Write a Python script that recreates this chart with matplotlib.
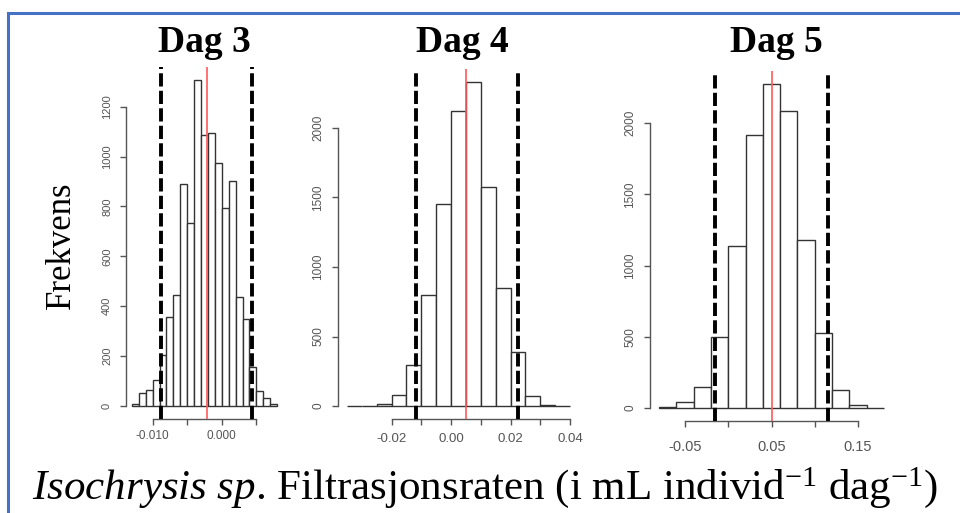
import matplotlib
matplotlib.use("Agg")
import matplotlib.pyplot as plt
import numpy as np
from matplotlib.lines import Line2D

plt.rcParams['font.family'] = ['Liberation Sans', 'DejaVu Sans']
plt.rcParams['mathtext.fontset'] = 'custom'
plt.rcParams['mathtext.rm'] = 'Liberation Serif'
plt.rcParams['mathtext.it'] = 'Liberation Serif:italic'

# Dag 3
dag3_breaks = np.round(np.arange(-0.013, 0.0081, 0.001), 4)
dag3_counts = [7, 53, 63, 103, 203, 357, 444, 890, 732, 1307, 1086, 1096,
               973, 792, 902, 435, 347, 157, 60, 32, 9]
dag3_ci = [-0.0088, 0.0044]
dag3_mean = -0.0022
dag3_xticks = [-0.010, -0.005, 0.000, 0.005]
dag3_xlabels = ['-0.010', '', '0.000', '']
dag3_yticks = [0, 200, 400, 600, 800, 1000, 1200]

# Dag 4
dag4_breaks = np.round(np.arange(-0.035, 0.0401, 0.005), 4)
dag4_counts = [2, 2, 17, 77, 293, 796, 1456, 2122, 2331, 1576, 851, 386, 72, 10, 2]
dag4_ci = [-0.0118, 0.0224]
dag4_mean = 0.0051
dag4_xticks = [-0.02, -0.01, 0.00, 0.01, 0.02, 0.03, 0.04]
dag4_xlabels = ['-0.02', '', '0.00', '', '0.02', '', '0.04']
dag4_yticks = [0, 500, 1000, 1500, 2000]

# Dag 5
dag5_breaks = np.round(np.arange(-0.08, 0.1801, 0.02), 4)
dag5_counts = [5, 42, 145, 498, 1139, 1920, 2276, 2087, 1181, 526, 129, 19, 3]
dag5_ci = [-0.0154, 0.1158]
dag5_mean = 0.0502
dag5_xticks = [-0.05, 0.00, 0.05, 0.10, 0.15]
dag5_xlabels = ['-0.05', '', '0.05', '', '0.15']
dag5_yticks = [0, 500, 1000, 1500, 2000]

titles = ['Dag 3', 'Dag 4', 'Dag 5']

fig = plt.figure(figsize=(9.6, 5.13), dpi=100)

# axes boxes (pixels: left, top, right, bottom)
boxes = [(126, 67, 283, 419), (338, 69, 579, 419), (650, 71, 893, 421)]
W, H = 960.0, 513.0


def r_hist(ax, breaks, counts, ci, mean, xticks, xlabels, yticks, xfs, yfs, xpad):
    breaks = np.asarray(breaks)
    ax.bar(breaks[:-1], counts, width=np.diff(breaks), align='edge',
           facecolor='white', edgecolor='#333333', linewidth=1.0, zorder=2)
    for v in ci:
        ax.axvline(v, color='black', lw=2.8, ls=(0, (3.4, 1.1)), zorder=3)
    ax.axvline(mean, color='#ff5a5a', lw=1.2, zorder=4)
    # R style 4% extension
    xr = breaks[-1] - breaks[0]
    ax.set_xlim(breaks[0] - 0.04 * xr, breaks[-1] + 0.04 * xr)
    ym = max(counts)
    ax.set_ylim(-0.04 * ym, ym * 1.04)
    for s in ['top', 'right']:
        ax.spines[s].set_visible(False)
    ax.spines['left'].set_bounds(yticks[0], yticks[-1])
    ax.spines['bottom'].set_bounds(xticks[0], xticks[-1])
    for s in ['left', 'bottom']:
        ax.spines[s].set_color('#555555')
        ax.spines[s].set_linewidth(1.0)
    ax.set_xticks(xticks)
    ax.set_xticklabels(xlabels, fontsize=xfs, color='#555555')
    ax.set_yticks(yticks)
    ax.set_yticklabels([str(t) for t in yticks], fontsize=yfs, color='#555555',
                       rotation=90, va='center')
    ax.tick_params(axis='both', length=4, width=1.0, color='#555555')
    ax.tick_params(axis='y', pad=6)
    ax.tick_params(axis='x', pad=xpad)
    ax.set_facecolor('none')


data = [
    (dag3_breaks, dag3_counts, dag3_ci, dag3_mean, dag3_xticks, dag3_xlabels, dag3_yticks, 8.5, 8, 4),
    (dag4_breaks, dag4_counts, dag4_ci, dag4_mean, dag4_xticks, dag4_xlabels, dag4_yticks, 9.5, 8.5, 6),
    (dag5_breaks, dag5_counts, dag5_ci, dag5_mean, dag5_xticks, dag5_xlabels, dag5_yticks, 10.5, 8.5, 10),
]

title_x = [204, 462, 776]
for i, (b, d) in enumerate(zip(boxes, data)):
    l, t, r, bt = b
    ax = fig.add_axes([l / W, 1 - bt / H, (r - l) / W, (bt - t) / H])
    r_hist(ax, *d)
    fig.text(title_x[i] / W, 1 - 42 / H, titles[i], ha='center', va='center',
             fontsize=27, fontweight='bold', family='Liberation Serif')

fig.text(61 / W, 1 - 245 / H, 'Frekvens', rotation=90, ha='center', va='center',
         fontsize=25, family='Liberation Serif')
fig.text(485 / W, 1 - 488 / H,
         r'$\mathit{Isochrysis\ sp}$. Filtrasjonsraten (i mL individ$^{-1}$ dag$^{-1}$)',
         ha='center', va='center', fontsize=31, family='Liberation Serif')

# blue frame
fig.add_artist(Line2D([8 / W, 8 / W, 1.05], [-0.05, 1 - 13 / H, 1 - 13 / H],
                      transform=fig.transFigure, color='#4472C4', lw=2.2,
                      solid_joinstyle='miter', clip_on=False))

fig.savefig('out.png', dpi=100)
